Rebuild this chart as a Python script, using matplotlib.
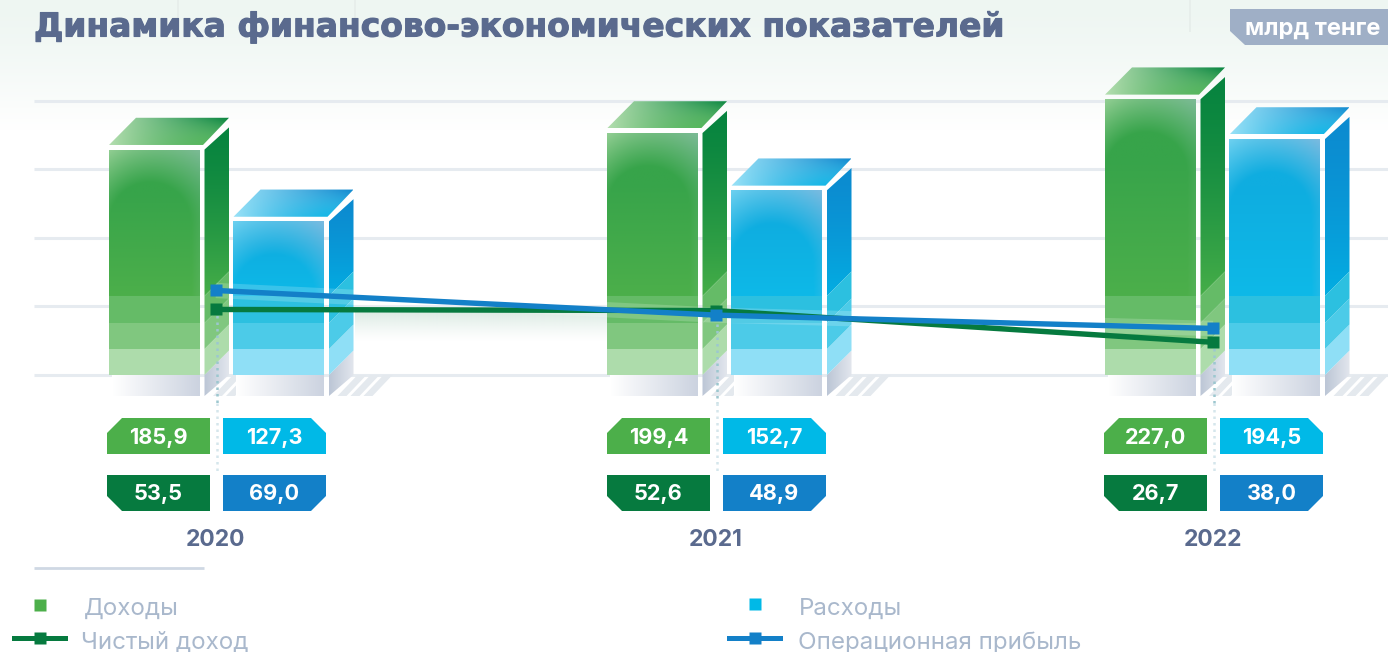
import numpy as np
import matplotlib
matplotlib.use('Agg')
import matplotlib.pyplot as plt
import matplotlib.patheffects as pe
from matplotlib.patches import Polygon
from matplotlib.colors import to_rgb

# данные, млрд тенге
years = ['2020', '2021', '2022']
revenue = [185.9, 199.4, 227.0]
expenses = [127.3, 152.7, 194.5]
net_income = [53.5, 52.6, 26.7]
operating_profit = [69.0, 48.9, 38.0]
grid_values = [0, 56, 112, 168, 224]
legend_labels = ['Доходы', 'Расходы', 'Чистый доход', 'Операционная прибыль']

W, H = 1388, 652
SCALE = 1.225      # px на единицу
BASE_Y = 375
centers = [216, 716, 1213]
bar_centers = [216, 714, 1212]

GREEN = dict(bands=['#addcab', '#80c77f', '#65bb67'], main='#4caf4a', mid='#37a44a',
             tl='#b0dcab', tr='#8abfa6', side_top='#07843f', side_bot='#45ad48',
             top_l='#b4deb0', top_r='#07843f', top_b='#55b75a')
BLUE = dict(bands=['#8fdff6', '#4ccbe8', '#2cc0e0'], main='#0db9e8', mid='#0fade0',
            tl='#8cdcf5', tr='#90bde0', side_top='#0c8bd0', side_bot='#03ade2',
            top_l='#9be2f7', top_r='#1389cf', top_b='#0db7e7')
BAND_TOPS = [26, 52, 79]

DARK_TEXT = '#5a6a8e'
LEGEND_TEXT = '#a9b8cc'
GRID = '#e6ebf0'
GREEN_LINE = '#067a3f'
BLUE_LINE = '#1380c8'

plt.rcParams['font.family'] = ['Inter', 'DejaVu Sans']

fig = plt.figure(figsize=(W / 100, H / 100), dpi=100, facecolor='white')
# подложка и подписи в пикселях, столбцы и линии - в значениях
bg = fig.add_axes([0, 0, 1, 1], zorder=0)
ax = fig.add_axes([0, 0, 1, 1], zorder=1)
top = fig.add_axes([0, 0, 1, 1], zorder=2)
for a in (bg, top):
    a.set_xlim(0, W)
    a.set_ylim(H, 0)
    a.axis('off')
ax.set_xlim(0, W)
ax.set_ylim(-(H - BASE_Y) / SCALE, BASE_Y / SCALE)
ax.axis('off')
ax.patch.set_alpha(0)


def c(name):
    return np.array(to_rgb(name))


def px(dy):
    # пиксели по вертикали -> единицы данных
    return dy / SCALE


def grad(a, verts, rgb, zorder=2):
    # заливка многоугольника массивом цветов
    xs = [v[0] for v in verts]
    ys = [v[1] for v in verts]
    im = a.imshow(rgb, extent=[min(xs), max(xs), min(ys), max(ys)], origin='lower',
                  aspect='auto', interpolation='bilinear', zorder=zorder)
    im.set_clip_path(Polygon(verts, closed=True, transform=a.transData))


def front_colors(st, h):
    n = max(int(h), 2)
    v, u = np.mgrid[0:1:complex(0, n), 0:1:60j]
    hpx = v * h      # снизу вверх, px
    depth = h - hpx
    base = c(st['main']) + (c(st['mid']) - c(st['main'])) * np.clip(hpx / max(h * 0.7, 1), 0, 1)[..., None]
    corner = c(st['tl']) + (c(st['tr']) - c(st['tl'])) * u[..., None]
    dist = np.hypot((u - 0.45) * 91, np.maximum(0, 75 - depth))
    w = np.clip((dist - 42) / 58, 0, 1)
    return base + (corner - base) * w[..., None]


def draw_bar(x0, value, st):
    fw, edge, d = 91, 4.5, 24.5
    x1 = x0 + fw
    xs0 = x1 + edge
    xs1 = xs0 + d
    y_top = value
    dep = px(d)
    wl = px(2.3)
    # штриховка пола
    for i in range(3):
        bx = xs1 - 16 + i * 13
        ax.add_patch(Polygon([(bx, -px(21)), (bx + 9, -px(21)), (bx + 29, 0), (bx + 20, 0)],
                             fc='#e4e9ee', ec='none', zorder=1))
    # тень на полу
    floor = np.linspace(0, 1, 60)[None, :, None] * (c('#ccd3e0') - 1) + 1
    grad(ax, [(x0 + 3, 0), (x1, 0), (x1, -px(21)), (x0 + 3, -px(21))], floor)
    shade = np.linspace(0, 1, 30)[None, :, None] * (c('#e2e6ed') - c('#bcc6d6')) + c('#bcc6d6')
    grad(ax, [(xs0, 0), (xs1, dep), (xs1, 0), (xs0, -px(21))], shade)
    # передняя грань
    main_h = value - px(BAND_TOPS[-1]) - wl
    grad(ax, [(x0, px(BAND_TOPS[-1])), (x1, px(BAND_TOPS[-1])), (x1, y_top - wl), (x0, y_top - wl)],
         front_colors(st, main_h * SCALE))
    prev = 0
    for col, t in zip(st['bands'], BAND_TOPS):
        ax.fill_between([x0, x1], prev, px(t), color=col, lw=0, zorder=3)
        prev = px(t)
    # боковая грань
    side = np.linspace(1, 0, 40)[:, None, None] ** 1.4 * (c(st['side_bot']) - c(st['side_top'])) + c(st['side_top'])
    side_floor = px(BAND_TOPS[-1])
    grad(ax, [(xs0, side_floor), (xs1, side_floor + dep), (xs1, y_top + dep - wl * 2), (xs0, y_top - wl)], side)
    prev = 0
    for col, t in zip(st['bands'], BAND_TOPS):
        ax.add_patch(Polygon([(xs0, prev), (xs1, prev + dep), (xs1, px(t) + dep), (xs0, px(t))],
                             fc=col, ec='none', zorder=3))
        prev = px(t)
    # верхняя грань
    v, u = np.mgrid[0:1:30j, 0:1:80j]
    t = u * (0.55 + 0.45 * v)
    top_col = c(st['top_l'])[None, None] + (c(st['top_r']) - c(st['top_l'])) * t[..., None]
    low = (1 - v) * np.clip(u * 1.3, 0, 1) * 0.9
    top_col = top_col + (c(st['top_b']) - top_col) * low[..., None]
    grad(ax, [(x0, y_top + wl), (x0 + 27, y_top + dep + px(5)), (xs1, y_top + dep + px(5)),
              (x1 + 3, y_top + wl)], top_col)


def badge(x0, x1, y0, y1, cut, color, text):
    corners = {
        'tl': [(x0, y0 + 15), (x0 + 15, y0), (x1, y0), (x1, y1), (x0, y1)],
        'tr': [(x0, y0), (x1 - 15, y0), (x1, y0 + 15), (x1, y1), (x0, y1)],
        'bl': [(x0, y0), (x1, y0), (x1, y1), (x0 + 15, y1), (x0, y1 - 15)],
        'br': [(x0, y0), (x1, y0), (x1, y1 - 15), (x1 - 15, y1), (x0, y1)],
    }
    top.add_patch(Polygon(corners[cut], fc=color, ec='none', zorder=3))
    top.text((x0 + x1) / 2, (y0 + y1) / 2 + 1.5, text, color='white', fontsize=15.6, fontweight='bold',
             ha='center', va='center', zorder=4)


# фон
sky = np.linspace(0, 1, 200)[:, None, None] ** 1.4 * (1 - c('#eef6f2')) + c('#eef6f2')
bg.imshow(sky, extent=[0, W, 130, 0], aspect='auto', zorder=0)
bg.vlines([178, 355, 1190], 0, 32, color='#e6edea', lw=1.2, zorder=1)
# свечение под линиями
glow = np.zeros((60, 2, 4))
glow[..., :3] = c('#dcebe4')
glow[..., 3] = np.linspace(1, 0, 60)[:, None] ** 1.3
bg.imshow(glow, extent=[355, 607, 342, 312], aspect='auto', zorder=1)
bg.set_xlim(0, W)
bg.set_ylim(H, 0)

ax.hlines(grid_values, 34, W, color=GRID, lw=2.2, zorder=0)

for cx, rev, exp in zip(bar_centers, revenue, expenses):
    draw_bar(cx - 107, rev, GREEN)
    draw_bar(cx + 17.5, exp, BLUE)

ax.set_xlim(0, W)
ax.set_ylim(-(H - BASE_Y) / SCALE, BASE_Y / SCALE)

# пунктир от точек к подписям: ниже пола бледнее
for x, net in zip(centers, net_income):
    ax.plot([x + 1, x + 1], [net, -px(28)], color='#9cc7cf', lw=1.8, ls=(0, (1, 1.6)), zorder=5)
    ax.plot([x + 1, x + 1], [-px(28), -px(97)], color='#d5e6ec', lw=1.8, ls=(0, (1, 1.6)), zorder=5)

# светлая полоса вдоль линии прибыли
ax.plot(centers, operating_profit, color='white', alpha=0.18, lw=11, zorder=5, solid_capstyle='butt')
ax.plot(centers, net_income, color=GREEN_LINE, lw=3.9, marker='s', ms=9, mec='none', zorder=6)
ax.plot(centers, operating_profit, color=BLUE_LINE, lw=3.9, marker='s', ms=9, mec='none', zorder=7)

for cx, year, rev, exp, net, op in zip(centers, years, revenue, expenses, net_income, operating_profit):
    fmt = lambda v: f'{v:.1f}'.replace('.', ',')
    badge(cx - 109, cx - 6, 418, 454, 'tl', '#4caf4a', fmt(rev))
    badge(cx + 7, cx + 110, 418, 454, 'tr', '#00b9e7', fmt(exp))
    badge(cx - 109, cx - 6, 475, 511, 'bl', GREEN_LINE, fmt(net))
    badge(cx + 7, cx + 110, 475, 511, 'br', BLUE_LINE, fmt(op))
    top.text(cx, 540, year, color=DARK_TEXT, fontsize=16.5, fontweight='bold', ha='center', va='center')

# заголовок
top.text(34, 27, 'Динамика финансово-экономических показателей', color=DARK_TEXT, fontsize=23.7,
         fontweight='bold', family='DejaVu Sans', ha='left', va='center',
         path_effects=[pe.withStroke(linewidth=0.8, foreground=DARK_TEXT)])
top.add_patch(Polygon([(1230, 9), (1388, 9), (1388, 45), (1245, 45), (1230, 31)], fc='#9fafc6', ec='none'))
top.text(1245, 29, 'млрд тенге', color='white', fontsize=17, fontweight='bold', ha='left', va='center')

# легенда
top.hlines(568, 34, 204, color='#cfd8e4', lw=2)
top.plot([40], [605], marker='s', ms=9, color='#4caf4a', mec='none', ls='none')
top.plot([755], [604], marker='s', ms=9, color='#00b9e7', mec='none', ls='none')
top.plot([14, 65], [638, 638], color=GREEN_LINE, lw=3.6)
top.plot([40], [638], marker='s', ms=9, color=GREEN_LINE, mec='none', ls='none')
top.plot([729, 780], [638, 638], color=BLUE_LINE, lw=3.6)
top.plot([755], [638], marker='s', ms=9, color=BLUE_LINE, mec='none', ls='none')
for (tx, ty), label in zip([(84, 608.5), (799, 608.5), (81, 642.5), (798, 642.5)], legend_labels):
    top.text(tx, ty, label, color=LEGEND_TEXT, fontsize=17.4, ha='left', va='center')

fig.savefig('out.png', dpi=100, facecolor='white')
